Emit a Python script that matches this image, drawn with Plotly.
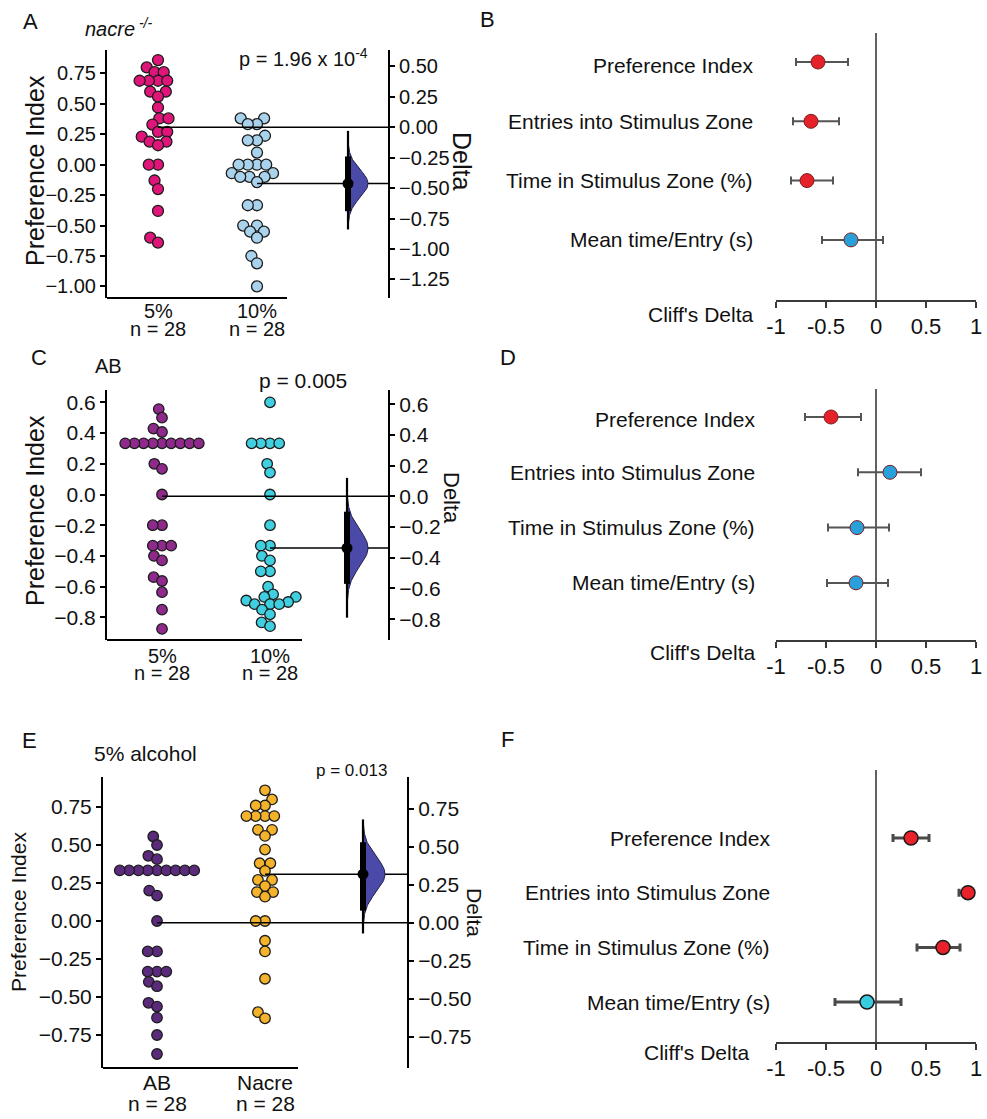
import numpy as np
import plotly.graph_objects as go

# ---------------- data ----------------
# Preference index of individual larvae (n = 28 per group)
nacre_5pct = [0.86, 0.80, 0.76, 0.76, 0.69, 0.69, 0.69, 0.69, 0.60, 0.60, 0.56, 0.47,
              0.38, 0.38, 0.33, 0.27, 0.27, 0.23, 0.19, 0.19, 0.16, 0.0, 0.0, -0.13,
              -0.20, -0.38, -0.60, -0.64]
nacre_10pct = [0.381, 0.381, 0.333, 0.333, 0.238, 0.2, 0.2, 0.1, 0.0, 0.0, 0.0, 0.0,
               -0.07, -0.07, -0.1, -0.1, -0.1, -0.143, -0.333, -0.333, -0.5, -0.5, -0.55,
               -0.55, -0.6, -0.75, -0.81, -1.0]
ab_5pct = [0.556, 0.5, 0.429, 0.407, 0.333, 0.333, 0.333, 0.333, 0.333, 0.333, 0.333,
           0.333, 0.333, 0.2, 0.167, 0.0, -0.2, -0.2, -0.333, -0.333, -0.333, -0.4,
           -0.429, -0.538, -0.563, -0.636, -0.75, -0.875]
ab_10pct = [0.6, 0.333, 0.333, 0.333, 0.333, 0.2, 0.143, 0.0, -0.2, -0.333, -0.333, -0.4,
            -0.429, -0.5, -0.5, -0.6, -0.65, -0.667, -0.667, -0.69, -0.7, -0.714, -0.714,
            -0.714, -0.75, -0.78, -0.833, -0.857]

group_labels_A = ["5%", "10%"]
group_labels_C = ["5%", "10%"]
group_labels_E = ["AB", "Nacre"]
n_label = "n = 28"

# bootstrap distribution of the mean difference: 95% CI and full extent
boot_ci_A, boot_span_A = (-0.69, -0.24), (-0.84, -0.03)
boot_ci_C, boot_span_C = (-0.57, -0.10), (-0.79, 0.12)
boot_ci_E, boot_span_E = (0.08, 0.53), (-0.07, 0.68)

p_text_A = "p = 1.96 x 10<sup>-4</sup>"
p_text_C = "p = 0.005"
p_text_E = "p = 0.013"

# Cliff's delta with 95% CI for each behavioural measure
measures = ["Preference Index", "Entries into Stimulus Zone",
            "Time in Stimulus Zone (%)", "Mean time/Entry (s)"]
cliff_B = [-0.58, -0.65, -0.69, -0.25]
cliff_B_lo = [-0.80, -0.83, -0.85, -0.54]
cliff_B_hi = [-0.28, -0.37, -0.43, 0.07]
cliff_D = [-0.45, 0.14, -0.19, -0.20]
cliff_D_lo = [-0.71, -0.18, -0.48, -0.49]
cliff_D_hi = [-0.15, 0.45, 0.13, 0.12]
cliff_F = [0.35, 0.92, 0.67, -0.09]
cliff_F_lo = [0.17, 0.83, 0.41, -0.41]
cliff_F_hi = [0.53, 0.96, 0.84, 0.25]
cliff_ticks = [-1, -0.5, 0, 0.5, 1]
cliff_tick_text = ["-1", "-0.5", "0", "0.5", "1"]

# ---------------- figure set-up ----------------
W, H = 987, 1119
FONT = "Liberation Sans, Arial, Helvetica, sans-serif"
INK = "#111111"
VIOLIN = "#4b4aa8"

fig = go.Figure()
lay = dict(width=W, height=H, margin=dict(l=0, r=0, t=0, b=0, pad=0, autoexpand=False),
           paper_bgcolor="white", plot_bgcolor="rgba(0,0,0,0)", showlegend=False,
           font=dict(family=FONT, color=INK))
annotations, shapes = [], []


def fx(p):
    return p / W


def fy(p):
    return 1 - p / H


def akey(kind, n):
    return kind if n == 1 else f"{kind}{n}"


def aref(kind, n):
    return kind[0] if n == 1 else f"{kind[0]}{n}"


def text(x, y, s, size, **kw):
    d = dict(x=fx(x), y=fy(y), xref="paper", yref="paper", text=s, showarrow=False,
             font=dict(size=size, family=FONT, color=INK), xanchor="center", yanchor="middle")
    d.update(kw)
    annotations.append(d)


def beeswarm(values, ppu, d):
    """Horizontal offsets (px) so that dots spaced d apart do not overlap."""
    ys = np.asarray(values, dtype=float) * ppu
    out = np.zeros(len(ys))
    placed = []
    for i in np.argsort(ys, kind="stable"):
        y = ys[i]
        nb = [(px, py) for px, py in placed if abs(py - y) < d]
        cands = [0.0]
        for px, py in nb:
            dx = np.sqrt(d * d - (py - y) ** 2)
            cands += [px - dx, px + dx]
        cands.sort(key=abs)
        for c in cands:
            if all((c - px) ** 2 + (y - py) ** 2 >= d * d - 1e-6 for px, py in nb):
                out[i] = c
                break
        placed.append((out[i], y))
    return out


def swarm_panel(i, cfg, g1, g2, labels, colors, ci, span):
    xn, yl, yr = i + 1, 2 * i + 1, 2 * i + 2
    xr, ylr, yrr = aref("xaxis", xn), aref("yaxis", yl), aref("yaxis", yr)
    xppu = cfg["g2"] - cfg["g1"]
    xrange = [(cfg["x0"] - cfg["g1"]) / xppu, (cfg["x1"] - cfg["g1"]) / xppu]
    yrange = [(cfg["zero"] - cfg["bottom"]) / cfg["ppu"], (cfg["zero"] - cfg["top"]) / cfg["ppu"]]
    m1, m2 = float(np.mean(g1)), float(np.mean(g2))
    delta = m2 - m1
    rrange = [yrange[0] - m1, yrange[1] - m1]
    ydom = [fy(cfg["bottom"]), fy(cfg["top"])]
    common = dict(showline=True, linecolor="black", linewidth=2, ticks="outside", ticklen=5,
                  tickwidth=1.5, tickcolor="black", showgrid=False, zeroline=False,
                  tickformat=cfg["fmt"], automargin=False,
                  tickfont=dict(size=cfg["tick_size"], family=FONT, color=INK))
    lay[akey("xaxis", xn)] = dict(domain=[fx(cfg["x0"]), fx(cfg["x1"])], range=xrange,
                                  anchor=ylr, showline=False, showticklabels=False, ticks="",
                                  showgrid=False, zeroline=False, automargin=False)
    lay[akey("yaxis", yl)] = dict(domain=ydom, range=yrange, anchor=xr, side="left",
                                  tickvals=cfg["lticks"], **common)
    lay[akey("yaxis", yr)] = dict(range=rrange, anchor=xr, overlaying=ylr, side="right",
                                  tickvals=cfg["rticks"], **common)
    # bottom axis line under the two groups
    shapes.append(dict(type="line", xref=xr, yref=f"{ylr} domain",
                       x0=xrange[0], x1=(cfg["axis_end"] - cfg["g1"]) / xppu, y0=0, y1=0,
                       line=dict(color="black", width=2)))

    # swarms
    for k, (vals, col) in enumerate(((g1, colors[0]), (g2, colors[1]))):
        off = beeswarm(vals, cfg["ppu"], cfg["gap"]) / xppu
        fig.add_trace(go.Scatter(x=k + off, y=vals, mode="markers", xaxis=xr, yaxis=ylr,
                                 marker=dict(size=cfg["dot"], color=col,
                                             line=dict(color="#1c1c1c", width=1.3)),
                                 hoverinfo="skip", cliponaxis=False))

    # half violin of the bootstrap distribution
    vx = (cfg["violin"] - cfg["g1"]) / xppu
    hw = cfg["vwidth"] / xppu
    sig = (ci[1] - ci[0]) / 3.92
    yy = np.linspace(delta - 3 * sig, delta + 3 * sig, 121)
    xx = vx + hw * np.exp(-0.5 * ((yy - delta) / sig) ** 2)
    fig.add_trace(go.Scatter(x=np.r_[vx, xx, vx], y=np.r_[yy[0], yy, yy[-1]], mode="lines",
                             fill="toself", fillcolor=VIOLIN,
                             line=dict(color="#202048", width=1),
                             xaxis=xr, yaxis=yrr, hoverinfo="skip"))

    # group mean reference lines reaching the delta axis
    for k, m in enumerate((m1, m2)):
        fig.add_trace(go.Scatter(x=[k, xrange[1]], y=[m, m], mode="lines", xaxis=xr, yaxis=ylr,
                                 line=dict(color="black", width=1.5), hoverinfo="skip"))

    # bootstrap extent, 95% CI and point estimate
    fig.add_trace(go.Scatter(x=[vx, vx], y=list(span), mode="lines", xaxis=xr, yaxis=yrr,
                             line=dict(color="black", width=2.2), hoverinfo="skip"))
    fig.add_trace(go.Scatter(x=[vx, vx], y=list(ci), mode="lines", xaxis=xr, yaxis=yrr,
                             line=dict(color="black", width=6), hoverinfo="skip"))
    fig.add_trace(go.Scatter(x=[vx], y=[delta], mode="markers", xaxis=xr, yaxis=yrr,
                             marker=dict(size=11, color="black"), hoverinfo="skip"))

    # category labels under the axis
    for k, lab in enumerate(labels):
        for s, ypx in ((lab, cfg["lab_y"][0]), (n_label, cfg["lab_y"][1])):
            annotations.append(dict(x=k, xref=xr, y=fy(ypx), yref="paper", text=s,
                                    showarrow=False, xanchor="center", yanchor="middle",
                                    font=dict(size=cfg["lab_size"], family=FONT, color=INK)))


def forest_panel(j, cfg, est, lo, hi, st):
    xn, yn = 4 + j, 7 + j
    xr, yr = aref("xaxis", xn), aref("yaxis", yn)
    sp = cfg["spacing"]
    yrange = [(cfg["bottom"] - cfg["row0"]) / sp, (cfg["top"] - cfg["row0"]) / sp]
    lay[akey("xaxis", xn)] = dict(domain=[fx(776), fx(976)], range=[-1, 1], anchor=yr,
                                  showline=True, linecolor="#3a3a3a", linewidth=1.6,
                                  ticks="outside", ticklen=6, tickwidth=1.6, tickcolor="#3a3a3a",
                                  tickvals=cliff_ticks, ticktext=cliff_tick_text,
                                  tickfont=dict(size=22, family=FONT, color=INK),
                                  showgrid=False, zeroline=False, automargin=False)
    lay[akey("yaxis", yn)] = dict(domain=[fy(cfg["bottom"]), fy(cfg["top"])], range=yrange,
                                  anchor=xr, visible=False, automargin=False)
    shapes.append(dict(type="line", xref=xr, yref=f"{yr} domain", x0=0, x1=0, y0=0, y1=1,
                       line=dict(color="#3a3a3a", width=1.6), layer="below"))
    est, lo, hi = np.array(est), np.array(lo), np.array(hi)
    rows = np.arange(len(est))
    sig = (lo > 0) | (hi < 0)
    colors = [st["sig"] if s else st["ns"] for s in sig]
    fig.add_trace(go.Scatter(
        x=est, y=rows, mode="markers", xaxis=xr, yaxis=yr, cliponaxis=False,
        error_x=dict(type="data", symmetric=False, array=hi - est, arrayminus=est - lo,
                     color=st["bar"], thickness=st["thick"], width=4),
        marker=dict(size=st["size"], color=colors,
                    line=dict(color=st["edge"], width=st["edge_w"])),
        hoverinfo="skip"))
    for r, name in zip(rows, measures):
        annotations.append(dict(x=fx(cfg["label_right"]), xref="paper", y=r, yref=yr,
                                yshift=cfg["label_shift"][r], text=name, showarrow=False,
                                xanchor="right", yanchor="middle",
                                font=dict(size=21, family=FONT, color=INK)))
    text(cfg["cliff_right"], cfg["cliff_y"], "Cliff's Delta", 21, xanchor="right")


# ---------------- panels A, C, E ----------------
cfg_A = dict(x0=107, x1=388, top=50, bottom=298, g1=158, g2=257, axis_end=287, violin=348,
             zero=164.7, ppu=121.7, fmt=".2f", tick_size=20,
             lticks=[-1.0, -0.75, -0.5, -0.25, 0.0, 0.25, 0.5, 0.75],
             rticks=[-1.25, -1.0, -0.75, -0.5, -0.25, 0.0, 0.25, 0.5],
             dot=11, gap=9.2, vwidth=20, lab_y=(311, 329), lab_size=20)
cfg_C = dict(x0=107, x1=388, top=390, bottom=640, g1=162, g2=270, axis_end=302, violin=347,
             zero=494.5, ppu=153.6, fmt=".1f", tick_size=21,
             lticks=[-0.8, -0.6, -0.4, -0.2, 0.0, 0.2, 0.4, 0.6],
             rticks=[-0.8, -0.6, -0.4, -0.2, 0.0, 0.2, 0.4, 0.6],
             dot=10.5, gap=9.2, vwidth=21, lab_y=(656, 673), lab_size=20)
cfg_E = dict(x0=103, x1=407, top=777, bottom=1068, g1=157, g2=265, axis_end=298, violin=363,
             zero=921, ppu=152, fmt=".2f", tick_size=21,
             lticks=[-0.75, -0.5, -0.25, 0.0, 0.25, 0.5, 0.75],
             rticks=[-0.75, -0.5, -0.25, 0.0, 0.25, 0.5, 0.75],
             dot=10.5, gap=9.3, vwidth=22, lab_y=(1082, 1103), lab_size=21)

swarm_panel(0, cfg_A, nacre_5pct, nacre_10pct, group_labels_A, ("#e0157a", "#a9d3ec"),
            boot_ci_A, boot_span_A)
swarm_panel(1, cfg_C, ab_5pct, ab_10pct, group_labels_C, ("#8f2a8c", "#3fcfe0"),
            boot_ci_C, boot_span_C)
swarm_panel(2, cfg_E, ab_5pct, nacre_5pct, group_labels_E, ("#5c2a7c", "#f4b32a"),
            boot_ci_E, boot_span_E)

# titles and annotations of the estimation plots
text(30, 21, "A", 22)
text(83, 27, "<i>nacre</i><sup><i> -/-</i></sup>", 20, xanchor="left")
text(237, 58, p_text_A, 20, xanchor="left")
text(35, 171, "Preference Index", 25, textangle=-90)
text(462, 161, "Delta", 25, textangle=90)

text(39, 358, "C", 22)
text(93, 366, "AB", 20, xanchor="left")
text(303, 380, p_text_C, 21)
text(35, 511, "Preference Index", 25, textangle=-90)
text(452, 498, "Delta", 22, textangle=90)

text(29, 740, "E", 22)
text(92, 753, "5% alcohol", 21, xanchor="left")
text(351, 770, p_text_E, 17)
text(18, 912, "Preference Index", 21, textangle=-90)
text(475, 912, "Delta", 21, textangle=90)

# ---------------- panels B, D, F ----------------
style_BD = dict(sig="#e5212a", ns="#2aa0da", bar="#555555", thick=2, size=14,
                edge="#7a1f1f", edge_w=1)
style_F = dict(sig="#e8212a", ns="#38cde0", bar="#4a4a4a", thick=3, size=14,
               edge="#1a1a1a", edge_w=1.5)

cfg_B = dict(top=33, bottom=300, row0=62, spacing=59.3, label_right=755,
             label_shift=[-3, 0, 0, 0], cliff_right=755, cliff_y=315)
cfg_D = dict(top=389, bottom=640, row0=417, spacing=55.3, label_right=757,
             label_shift=[-3, 0, 0, 0], cliff_right=757, cliff_y=652)
cfg_F = dict(top=770, bottom=1042, row0=838, spacing=54.7, label_right=772,
             label_shift=[0, 0, 0, 0], cliff_right=751, cliff_y=1052)

forest_panel(0, cfg_B, cliff_B, cliff_B_lo, cliff_B_hi, style_BD)
forest_panel(1, cfg_D, cliff_D, cliff_D_lo, cliff_D_hi, style_BD)
forest_panel(2, cfg_F, cliff_F, cliff_F_lo, cliff_F_hi, style_F)

text(487, 20, "B", 22)
text(508, 358, "D", 22)
text(507, 739, "F", 22)

lay["annotations"] = annotations
lay["shapes"] = shapes
fig.update_layout(**lay)
fig.write_html("out.html")
